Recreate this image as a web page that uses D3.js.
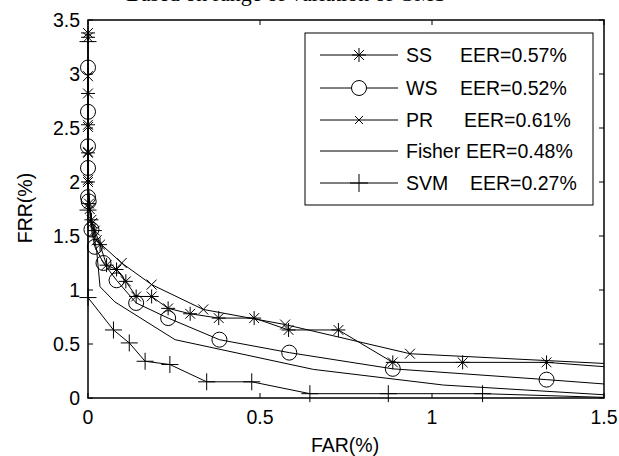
<!DOCTYPE html>
<html>
<head>
<meta charset="utf-8">
<style>
  body { margin: 0; background: #fff; }
  svg { display: block; }
  text { font-family: "Liberation Sans", Arial, sans-serif; fill: #000; }
</style>
<script src="https://d3js.org/d3.v7.min.js"></script>
</head>
<body>
<script>
// FAR / FRR values (percent)
var ssFAR = [0, 0, 0, 0, 0, 0, 0.003, 0.01, 0.02, 0.035, 0.054, 0.083, 0.11, 0.14, 0.185, 0.233, 0.297, 0.38, 0.483, 0.583, 0.728, 0.886, 1.089, 1.333, 1.5];
var ssFRR = [3.38, 3.34, 2.82, 2.53, 2.27, 2.0, 1.8, 1.65, 1.55, 1.42, 1.23, 1.19, 1.08, 0.94, 0.94, 0.83, 0.78, 0.74, 0.74, 0.63, 0.63, 0.33, 0.33, 0.33, 0.29];

var wsFAR = [0, 0, 0, 0, 0, 0.002, 0.01, 0.02, 0.045, 0.083, 0.14, 0.233, 0.382, 0.585, 0.886, 1.333, 1.5];
var wsFRR = [3.06, 2.65, 2.33, 2.13, 1.86, 1.82, 1.56, 1.40, 1.25, 1.09, 0.88, 0.74, 0.54, 0.42, 0.27, 0.17, 0.13];

var prFAR = [0, 0, 0, 0, 0.005, 0.012, 0.025, 0.098, 0.185, 0.335, 0.573, 0.936, 1.5];
var prFRR = [2.98, 2.51, 2.28, 2.02, 1.75, 1.62, 1.46, 1.25, 1.05, 0.82, 0.68, 0.41, 0.32];

var fisherFAR = [0, 0.01, 0.025, 0.035, 0.078, 0.253, 0.655, 1.033, 1.5];
var fisherFRR = [2.0, 1.62, 1.37, 1.03, 0.89, 0.54, 0.265, 0.12, 0.03];

var svmFAR = [0, 0, 0, 0.074, 0.12, 0.166, 0.238, 0.345, 0.476, 0.645, 0.873, 1.147, 1.5];
var svmFRR = [3.3, 1.74, 0.93, 0.63, 0.51, 0.34, 0.31, 0.15, 0.15, 0.04, 0.04, 0.04, 0.006];

var seriesNames = ["SS", "WS", "PR", "Fisher", "SVM"];
var eerLabels = ["EER=0.57%", "EER=0.52%", "EER=0.61%", "EER=0.48%", "EER=0.27%"];
var xTicks = [0, 0.5, 1, 1.5];
var yTicks = [0, 0.5, 1, 1.5, 2, 2.5, 3, 3.5];

var width = 619, height = 456;
var plotLeft = 88, plotRight = 604, plotTop = 20, plotBottom = 398;

var svg = d3.select("body").append("svg")
    .attr("width", width)
    .attr("height", height);

svg.append("rect").attr("width", width).attr("height", height).attr("fill", "#fff");

// title, mostly cut off by the top of the image
svg.append("text")
    .attr("x", 126)
    .attr("y", 1)
    .style("font-family", "'Liberation Serif', 'Times New Roman', serif")
    .style("font-size", "22px")
    .text("Based on range of variation of GMS");

var x = d3.scaleLinear().domain([0, 1.5]).range([plotLeft, plotRight]);
var y = d3.scaleLinear().domain([0, 3.5]).range([plotBottom, plotTop]);

// marker shapes
function markerPath(type, s) {
  if (type === "star") {
    var d = s * 0.7;
    return "M" + (-s) + ",0H" + s + "M0," + (-s) + "V" + s +
           "M" + (-d) + "," + (-d) + "L" + d + "," + d + "M" + (-d) + "," + d + "L" + d + "," + (-d);
  }
  if (type === "x") return "M" + (-s) + "," + (-s) + "L" + s + "," + s + "M" + (-s) + "," + s + "L" + s + "," + (-s);
  if (type === "plus") return "M" + (-s) + ",0H" + s + "M0," + (-s) + "V" + s;
  return "";
}

var series = [
  {xs: ssFAR, ys: ssFRR, marker: "star", size: 7},
  {xs: wsFAR, ys: wsFRR, marker: "circle", size: 7.5},
  {xs: prFAR, ys: prFRR, marker: "x", size: 5},
  {xs: fisherFAR, ys: fisherFRR, marker: "none", size: 0},
  {xs: svmFAR, ys: svmFRR, marker: "plus", size: 8.5}
];

var line = d3.line()
    .x(function(d) { return x(d[0]); })
    .y(function(d) { return y(d[1]); });

series.forEach(function(s) {
  var pts = d3.zip(s.xs, s.ys);
  svg.append("path")
      .attr("d", line(pts))
      .attr("fill", "none")
      .attr("stroke", "#000")
      .attr("stroke-width", 1);

  var inside = pts.filter(function(p) { return p[0] < 1.5; });
  if (s.marker === "circle") {
    svg.selectAll(null).data(inside).enter().append("circle")
        .attr("cx", function(d) { return x(d[0]); })
        .attr("cy", function(d) { return y(d[1]); })
        .attr("r", s.size)
        .attr("fill", "none")
        .attr("stroke", "#000")
        .attr("stroke-width", 1);
  } else if (s.marker !== "none") {
    svg.selectAll(null).data(inside).enter().append("path")
        .attr("transform", function(d) { return "translate(" + x(d[0]) + "," + y(d[1]) + ")"; })
        .attr("d", markerPath(s.marker, s.size))
        .attr("fill", "none")
        .attr("stroke", "#000")
        .attr("stroke-width", 1);
  }
});

// axes box
svg.append("rect")
    .attr("x", plotLeft).attr("y", plotTop)
    .attr("width", plotRight - plotLeft).attr("height", plotBottom - plotTop)
    .attr("fill", "none").attr("stroke", "#000").attr("stroke-width", 1.5);

var tickLen = 5;
// inward ticks on all four sides
svg.selectAll(null).data(xTicks).enter().append("path")
    .attr("d", function(d) {
      return "M" + x(d) + "," + plotBottom + "v" + (-tickLen) + "M" + x(d) + "," + plotTop + "v" + tickLen;
    })
    .attr("stroke", "#000").attr("stroke-width", 1);
svg.selectAll(null).data(yTicks).enter().append("path")
    .attr("d", function(d) {
      return "M" + plotLeft + "," + y(d) + "h" + tickLen + "M" + plotRight + "," + y(d) + "h" + (-tickLen);
    })
    .attr("stroke", "#000").attr("stroke-width", 1);

svg.selectAll(null).data(xTicks).enter().append("text")
    .attr("x", function(d) { return x(d); })
    .attr("y", plotBottom + 26)
    .attr("text-anchor", "middle")
    .style("font-size", "19.5px")
    .text(function(d) { return d; });

svg.selectAll(null).data(yTicks).enter().append("text")
    .attr("x", plotLeft - 8)
    .attr("y", function(d) { return y(d) + 7; })
    .attr("text-anchor", "end")
    .style("font-size", "19.5px")
    .text(function(d) { return d; });

svg.append("text")
    .attr("x", 345).attr("y", 452)
    .attr("text-anchor", "middle")
    .style("font-size", "19.5px")
    .text("FAR(%)");

svg.append("text")
    .attr("transform", "translate(32,208) rotate(-90)")
    .attr("text-anchor", "middle")
    .style("font-size", "19.5px")
    .text("FRR(%)");

// legend
var legX = 305, legY = 33, legW = 288, legH = 172;
svg.append("rect")
    .attr("x", legX).attr("y", legY).attr("width", legW).attr("height", legH)
    .attr("fill", "#fff").attr("stroke", "#000").attr("stroke-width", 1);

var legRowY = [55, 88, 120, 151, 183];
var eerX = [460, 460, 464, 466, 470];
var legMarkerSize = [7, 7.5, 4, 0, 9];

series.forEach(function(s, i) {
  var ry = legRowY[i];
  svg.append("path")
      .attr("d", "M320," + ry + "H398")
      .attr("stroke", "#000").attr("stroke-width", 1);
  if (s.marker === "circle") {
    svg.append("circle").attr("cx", 359).attr("cy", ry).attr("r", legMarkerSize[i])
        .attr("fill", "#fff").attr("stroke", "#000").attr("stroke-width", 1);
  } else if (s.marker !== "none") {
    svg.append("path")
        .attr("transform", "translate(359," + ry + ")")
        .attr("d", markerPath(s.marker, legMarkerSize[i]))
        .attr("fill", "none").attr("stroke", "#000").attr("stroke-width", 1);
  }
  svg.append("text")
      .attr("x", 406).attr("y", ry + 7)
      .style("font-size", "19.5px")
      .text(seriesNames[i]);
  svg.append("text")
      .attr("x", eerX[i]).attr("y", ry + 7)
      .style("font-size", "19.5px")
      .text(eerLabels[i]);
});
</script>
</body>
</html>
